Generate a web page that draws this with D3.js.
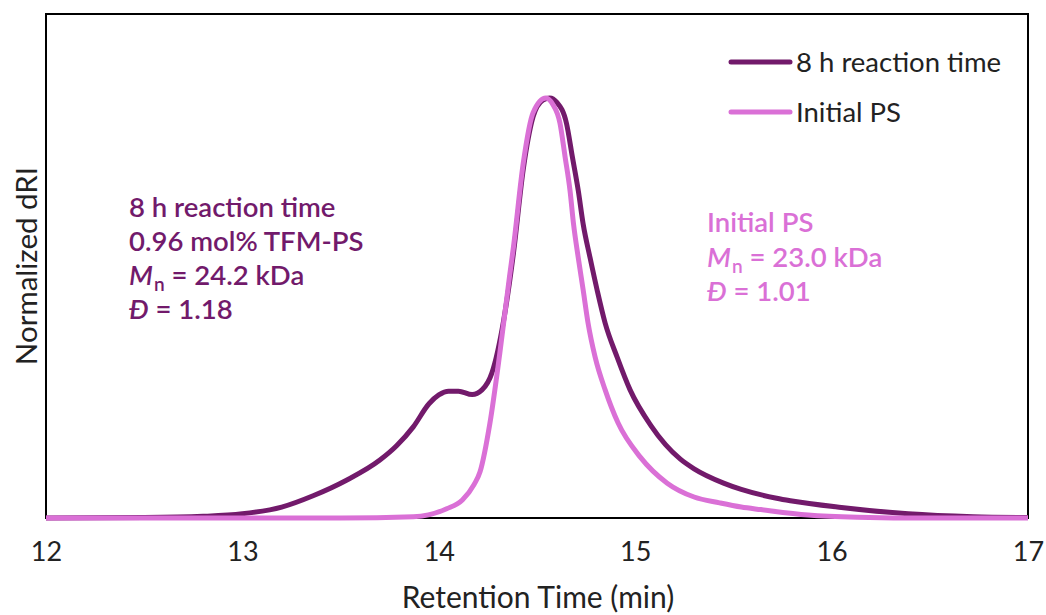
<!DOCTYPE html>
<html><head><meta charset="utf-8">
<script src="https://cdn.jsdelivr.net/npm/d3@7"></script>
<style>body{margin:0;background:#fff;} text{font-family:Lato,"Open Sans",sans-serif;}</style>
</head><body>
<svg id="chart" width="1046" height="615"></svg>
<script>
// Retention time (min) and normalized dRI values
const timeReacted = [12.0,12.5,12.8,13.0,13.2,13.36,13.53,13.7,13.785,13.87,13.95,14.0,14.05,14.1,14.17,14.22,14.27,14.33,14.38,14.43,14.48,14.53,14.565,14.6,14.65,14.68,14.71,14.735,14.77,14.806,14.847,14.908,14.974,15.08,15.23,15.3,15.45,15.54,15.72,15.79,16.05,16.39,16.72,17.0];
const dRIReacted  = [0,0.001,0.004,0.01,0.026,0.053,0.09,0.138,0.172,0.217,0.272,0.293,0.302,0.302,0.294,0.305,0.345,0.47,0.63,0.83,0.955,0.995,1.0,0.99,0.94,0.86,0.78,0.70,0.62,0.543,0.464,0.383,0.305,0.22,0.14,0.117,0.083,0.068,0.047,0.041,0.025,0.01,0.003,0.001];
const timeInitial = [12.0,13.0,13.5,13.87,14.04,14.12,14.18,14.21,14.26,14.31,14.36,14.38,14.43,14.48,14.545,14.58,14.617,14.643,14.668,14.686,14.71,14.735,14.76,14.796,14.847,14.913,15.026,15.163,15.3,15.43,15.54,15.64,15.88,16.13,16.5,17.0];
const dRIInitial  = [0,0,0,0.003,0.022,0.043,0.08,0.11,0.225,0.39,0.575,0.645,0.845,0.965,1.0,0.985,0.94,0.86,0.78,0.70,0.62,0.543,0.464,0.383,0.305,0.226,0.145,0.083,0.05,0.036,0.026,0.02,0.007,0.002,0.0,0.0];
const xTicks = [12,13,14,15,16,17];
const seriesNames = ["8 h reaction time","Initial PS"];
const colors = ["#721a6b","#da70d6"];
const annotReacted = ["8 h reaction time","0.96 mol% TFM-PS","Mn = 24.2 kDa","Đ = 1.18"];
const annotInitial = ["Initial PS","Mn = 23.0 kDa","Đ = 1.01"];

const svg = d3.select("#chart");
const L=46, R=1028, T=14, B=518;
const x = d3.scaleLinear().domain([12,17]).range([L,R]);
const y = d3.scaleLinear().domain([0,1.2]).range([B,T]);

// frame
svg.append("rect").attr("x",L).attr("y",T).attr("width",R-L).attr("height",B-T)
  .attr("fill","none").attr("stroke","#000").attr("stroke-width",2);

// x axis labels
const xAxis = d3.axisBottom(x).tickValues(xTicks).tickSize(0).tickPadding(24).tickFormat(d3.format("d"));
const gx = svg.append("g").attr("transform",`translate(0,${B})`).call(xAxis);
gx.select(".domain").remove();
gx.selectAll("text").attr("font-size",27).attr("fill","#222").style("font-family","Lato");

svg.append("text").attr("x",538).attr("y",608).attr("text-anchor","middle")
  .attr("font-size",30).attr("fill","#222").text("Retention Time (min)");
svg.append("text").attr("transform",`translate(37,266) rotate(-90)`).attr("text-anchor","middle")
  .attr("font-size",29.5).attr("fill","#222").text("Normalized dRI");

const line = d3.line().x(d=>x(d[0])).y(d=>y(d[1])).curve(d3.curveMonotoneX);
const dataR = timeReacted.map((t,i)=>[t,dRIReacted[i]]);
const dataI = timeInitial.map((t,i)=>[t,dRIInitial[i]]);
svg.append("path").attr("d",line(dataR)).attr("fill","none").attr("stroke",colors[0]).attr("stroke-width",5).attr("stroke-linejoin","round");
svg.append("path").attr("d",line(dataI)).attr("fill","none").attr("stroke",colors[1]).attr("stroke-width",5).attr("stroke-linejoin","round");

// legend
seriesNames.forEach((n,i)=>{
  const yy = 62 + i*50;
  svg.append("line").attr("x1",731).attr("x2",790).attr("y1",yy).attr("y2",yy)
    .attr("stroke",colors[i]).attr("stroke-width",5).attr("stroke-linecap","round");
  svg.append("text").attr("x",796).attr("y",yy+10).attr("font-size",27.5).attr("fill","#222").text(n);
});

function annot(lines,x0,y0,dy,color){
  lines.forEach((s,i)=>{
    const t = svg.append("text").attr("x",x0).attr("y",y0+i*dy).attr("font-size",27.5)
      .attr("font-weight",600).attr("fill",color);
    if (s.startsWith("Mn")) {
      t.append("tspan").attr("font-style","italic").text("M");
      t.append("tspan").attr("font-size",19).attr("dy",6).attr("dx",1).text("n");
      t.append("tspan").attr("dy",-6).text(s.slice(2));
    } else if (s.startsWith("Đ")) {
      t.append("tspan").attr("font-style","italic").text("Đ");
      t.append("tspan").text(s.slice(1));
    } else t.text(s);
  });
}
annot(annotReacted,129,217,34,colors[0]);
annot(annotInitial,707,232,34.5,colors[1]);
</script>
</body></html>
